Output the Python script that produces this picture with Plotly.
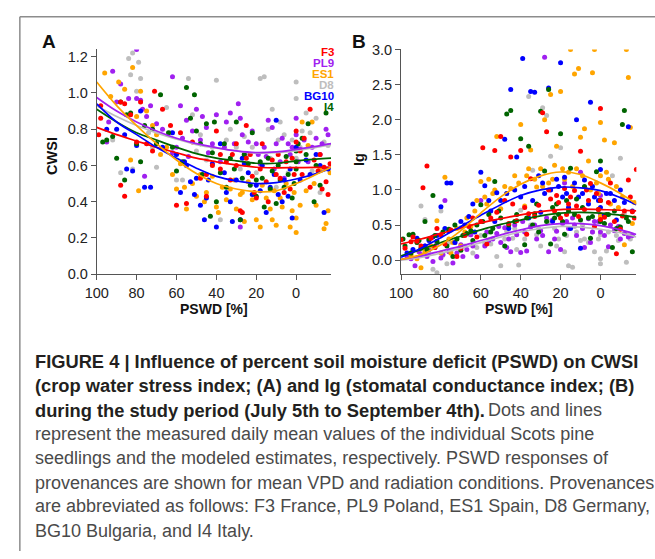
import plotly.graph_objects as go

W, H = 655, 559

series = ["F3", "PL9", "ES1", "D8", "BG10", "I4"]
colors = {"F3": "#FF0000", "PL9": "#A020F0", "ES1": "#FFA500",
          "D8": "#BEBEBE", "BG10": "#0000FF", "I4": "#006400"}

# ---------------- Panel A: CWSI vs PSWD (measured points) ----------------
a_F3_x = [99, 98, 98, 88, 86, 88, 86, 83, 80, 78, 75, 71, 72, 67, 63, 60, 58, 55, 52, 48, 45, 42, 40, 38, 35, 32, 30, 28, 27, 25, 25, 22, 20, 18, 15, 12, 10, 8, 5, 3, 1, 0, 0, -2, -4, -7, -7, -9, -11, -13, -14, -16, -17, -15,
          45, 38, 33, 30, 23, 21, 17, 14, 9, 6, 2, -3, -12]
a_F3_y = [0.77, 0.86, 0.93, 0.95, 0.94, 0.49, 0.43, 0.88, 0.73, 0.95, 0.72, 1.01, 0.68, 0.91, 0.82, 0.38, 0.78, 0.39, 0.73, 0.53, 0.43, 0.60, 0.79, 0.58, 0.62, 0.66, 0.72, 0.35, 0.34, 0.64, 0.82, 0.54, 0.42, 0.58, 0.51, 0.63, 0.55, 0.53, 0.62, 0.47, 0.55, 0.73, 0.79, 0.68, 0.75, 0.91, 0.48, 0.63, 0.57, 0.47, 0.59, 0.44, 0.61, 0.51,
          0.55, 0.66, 0.52, 0.60, 0.66, 0.45, 0.72, 0.40, 0.66, 0.45, 0.64, 0.55, 0.66]

a_PL9_x = [95, 94, 92, 90, 88, 84, 80, 80, 78, 77, 75, 76, 73, 70, 67, 62, 62, 58, 57, 55, 52, 50, 47, 45, 44, 42, 40, 38, 35, 33, 29, 28, 27, 28, 24, 22, 20, 18, 15, 14, 12, 10, 8, 6, 4, 2, 0, 0, -2, -4, -6, -10, -12, -15, -16,
           60, 54, 48, 36, 31, 26, 19, 16, 11, 7, 3, -1, -8, -13]
a_PL9_y = [0.73, 0.84, 1.12, 0.95, 1.05, 0.97, 1.24, 0.97, 0.96, 0.91, 0.87, 0.54, 0.93, 0.83, 0.80, 0.67, 1.09, 0.93, 0.75, 0.85, 0.79, 0.91, 0.87, 0.81, 0.67, 0.72, 0.88, 0.62, 0.84, 0.89, 0.94, 0.86, 0.77, 0.26, 0.73, 0.79, 0.72, 0.61, 0.65, 0.85, 0.81, 0.72, 0.62, 0.53, 0.72, 0.70, 0.86, 0.77, 0.69, 0.74, 0.62, 0.75, 0.66, 0.80, 0.77,
           0.70, 0.65, 0.74, 0.70, 0.72, 0.66, 0.66, 0.70, 0.58, 0.75, 0.66, 0.62, 0.70, 0.72]

a_ES1_x = [96, 93, 89, 86, 82, 83, 80, 78, 79, 75, 72, 70, 65, 60, 58, 55, 52, 50, 48, 45, 42, 40, 39, 35, 33, 30, 28, 26, 24, 20, 18, 15, 13, 11, 10, 7, 5, 3, 1, 0, 0, -2, -3, -6, -8, -10, -12, -14, -15, -16, -17,
           68, 62, 56, 46, 37, 31, 27, 22, 17, 12, 8, 2, -5, -9]
a_ES1_y = [1.11, 0.98, 1.06, 1.02, 1.14, 0.63, 0.87, 1.01, 0.46, 0.90, 0.82, 0.77, 0.70, 0.47, 0.61, 0.36, 0.50, 0.43, 0.55, 0.45, 0.54, 0.37, 0.34, 0.41, 0.47, 0.36, 0.44, 0.29, 0.51, 0.30, 0.26, 0.42, 0.36, 0.46, 0.27, 0.37, 0.50, 0.26, 0.45, 0.23, 0.31, 0.38, 0.84, 0.71, 0.84, 0.38, 0.58, 0.25, 0.28, 0.35, 0.56,
           0.66, 0.55, 0.48, 0.40, 0.48, 0.52, 0.45, 0.41, 0.49, 0.30, 0.42, 0.35, 0.46, 0.50]

a_D8_x = [84, 82, 83, 79, 78, 80, 88, 82, 72, 70, 65, 63, 57, 54, 52, 48, 45, 40, 38, 35, 30, 28, 26, 24, 20, 18, 16, 14, 12, 10, 8, 6, 4, 0, 0, 0, -3, -5, -8, -10, -12, -14, -16,
          92, 74, 60, 50, 42, 33, 22, 13, 9, 2, -2, -7]
a_D8_y = [1.19, 1.22, 1.10, 1.17, 1.08, 1.01, 0.56, 0.58, 0.70, 0.59, 0.92, 0.78, 0.52, 1.08, 0.88, 0.77, 0.63, 1.07, 0.30, 0.74, 0.70, 0.58, 0.76, 0.66, 0.56, 1.08, 1.09, 0.80, 0.91, 0.48, 0.84, 0.77, 0.56, 1.06, 0.97, 0.64, 0.79, 0.89, 0.57, 0.86, 0.45, 0.73, 0.71,
          0.74, 0.78, 0.52, 0.68, 0.70, 0.80, 0.70, 0.64, 0.74, 0.74, 0.70, 0.78]

a_BG10_x = [90, 85, 82, 80, 78, 76, 73, 70, 62, 60, 58, 55, 53, 50, 48, 46, 45, 42, 40, 38, 35, 32, 30, 28, 26, 24, 20, 18, 15, 13, 10, 9, 6, 4, 2, 0, -2, -5, -10, -14, -16,
            95, 86, 67, 56, 51, 44, 36, 33, 27, 22, 17, 11, 7, 3, -7, -12]
a_BG10_y = [0.80, 0.58, 0.57, 0.71, 0.90, 0.48, 0.48, 0.72, 0.78, 0.66, 0.45, 0.60, 0.51, 0.53, 0.38, 0.30, 0.42, 0.61, 0.26, 0.72, 0.45, 0.29, 0.52, 0.30, 0.61, 0.56, 0.49, 0.46, 0.34, 0.48, 0.85, 0.44, 0.52, 0.43, 0.31, 0.70, 0.52, 0.63, 0.66, 0.34, 0.58,
            0.80, 0.77, 0.70, 0.62, 0.44, 0.52, 0.56, 0.40, 0.64, 0.44, 0.60, 0.55, 0.40, 0.58, 0.55, 0.60]

a_I4_x = [97, 95, 92, 90, 88, 86, 85, 83, 80, 78, 76, 72, 68, 64, 60, 57, 55, 53, 51, 50, 47, 45, 43, 41, 40, 38, 36, 33, 30, 28, 26, 24, 22, 20, 20, 18, 16, 14, 12, 10, 8, 6, 4, 2, 0, 0, 0, -3, -6, -9, -12, -15,
          70, 62, 48, 42, 35, 31, 27, 23, 17, 13, 9, 5, 1, -1, -5, -10]
a_I4_y = [0.73, 0.74, 0.76, 0.64, 0.95, 0.52, 0.88, 0.89, 0.72, 0.62, 0.82, 0.80, 0.99, 0.78, 0.57, 0.62, 1.03, 0.86, 0.99, 0.79, 0.55, 0.83, 0.32, 0.84, 0.40, 0.56, 0.72, 0.64, 0.84, 0.30, 0.66, 0.61, 0.78, 0.43, 0.52, 0.62, 0.37, 0.64, 0.57, 0.39, 0.52, 0.48, 0.55, 0.42, 0.68, 0.62, 0.58, 0.75, 0.83, 0.40, 0.49, 0.89,
          0.72, 0.70, 0.72, 0.67, 0.48, 0.58, 0.53, 0.49, 0.53, 0.47, 0.60, 0.65, 0.50, 0.72, 0.66, 0.60]

# ---------------- Panel A: modelled curves ----------------
curve_x = [100, 90, 80, 70, 60, 50, 40, 30, 20, 10, 0, -10, -17.5]
a_curve = {
    "D8":   [0.93, 0.87, 0.82, 0.78, 0.745, 0.715, 0.695, 0.68, 0.668, 0.67, 0.68, 0.70, 0.715],
    "PL9":  [0.975, 0.90, 0.84, 0.79, 0.75, 0.72, 0.698, 0.68, 0.671, 0.675, 0.689, 0.705, 0.72],
    "I4":   [0.91, 0.84, 0.78, 0.74, 0.70, 0.665, 0.64, 0.625, 0.612, 0.612, 0.625, 0.635, 0.64],
    "F3":   [0.81, 0.77, 0.735, 0.70, 0.67, 0.64, 0.62, 0.603, 0.59, 0.587, 0.588, 0.589, 0.59],
    "BG10": [0.94, 0.84, 0.77, 0.70, 0.64, 0.585, 0.54, 0.515, 0.50, 0.505, 0.525, 0.555, 0.585],
    "ES1":  [1.06, 0.93, 0.82, 0.72, 0.63, 0.555, 0.50, 0.47, 0.455, 0.46, 0.50, 0.55, 0.59],
}

# ---------------- Panel B: Ig vs PSWD (measured points) ----------------
b_F3_x = [100, 98, 95, 92, 89, 87, 85, 83, 80, 78, 75, 72, 70, 66, 62, 60, 59, 57, 55, 53, 50, 48, 46, 45, 42, 40, 38, 37, 35, 33, 29, 27, 25, 23, 22, 20, 18, 16, 15, 13, 11, 10, 8, 6, 5, 3, 1, 0, 0, 0, -2, -5, -7, -8, -10, -12, -14, -15, -16, -18,
          94, 90, 82, 68, 64, 52, 44, 36, 31, 26, 21, 17, 12, 7, 2, -4, -11, -17]
b_F3_y = [0.29, 0.17, 0.26, 0.27, 1.03, 1.34, 0.31, 0.18, 0.36, 0.23, 0.43, 0.05, 0.17, 0.48, 0.33, 0.55, 1.60, 0.23, 0.60, 1.56, 1.76, 0.85, 0.52, 1.47, 0.56, 1.56, 0.75, 0.37, 1.16, 0.62, 2.10, 1.83, 0.87, 0.70, 0.92, 0.60, 1.02, 0.80, 0.90, 0.99, 0.62, 1.55, 0.72, 0.85, 1.09, 0.48, 0.72, 2.16, 0.85, 0.58, 0.61, 1.10, 0.55, 0.09, 0.44, 0.70, 1.14, 0.90, 0.69, 1.29,
          0.33, 0.20, 0.45, 0.35, 0.60, 0.68, 0.80, 0.66, 0.78, 1.00, 0.82, 0.65, 0.77, 1.00, 0.95, 0.82, 0.63, 0.60]

b_PL9_x = [97, 93, 90, 88, 86, 84, 82, 80, 78, 76, 74, 72, 70, 67, 65, 62, 60, 58, 56, 54, 52, 50, 48, 46, 45, 42, 40, 38, 37, 35, 32, 30, 28, 27, 26, 24, 22, 20, 19, 18, 16, 14, 12, 10, 8, 6, 4, 3, 0, 0, 0, -2, -4, -7, -9, -12, -14,
           95, 91, 87, 83, 79, 73, 69, 64, 57, 51, 47, 43, 39, 33, 29, 23, 17, 13, 9, 5, 1, -5, -10, -16]
b_PL9_y = [0.05, -0.08, 0.08, 0.20, 0.15, -0.02, 0.24, 0.03, 0.85, 0.12, -0.04, 0.10, 0.22, 0.15, 0.36, 0.05, 0.85, 0.20, 0.28, 0.30, 0.38, 0.25, 0.46, 0.30, 0.12, 0.36, 0.11, 0.40, 0.13, 0.47, 0.30, 0.42, 2.89, 0.60, 0.12, 0.57, 0.41, 0.15, 0.52, 1.10, 0.45, 0.60, 0.35, 1.25, 0.18, 0.59, 0.40, 0.55, 0.92, 0.65, 0.40, 0.35, 0.19, 0.42, 0.48, 0.38, 0.33,
           0.02, 0.12, 0.05, 0.18, 0.08, 0.25, 0.05, 0.20, 0.40, 0.48, 0.18, 0.50, 0.55, 0.50, 0.35, 0.30, 0.55, 0.50, 0.45, 0.25, 0.55, 0.50, 0.30, 0.35]

b_ES1_x = [95, 92, 90, 85, 82, 80, 78, 76, 75, 72, 70, 67, 65, 62, 60, 58, 56, 54, 52, 50, 48, 45, 43, 40, 38, 36, 35, 32, 30, 28, 26, 25, 23, 22, 20, 18, 16, 15, 13, 12, 11, 10, 8, 6, 4, 3, 2, 0, 0, 0, -2, -4, -5, -7, -9, -12, -13, -14, -15, -16, -17,
           88, 74, 68, 63, 57, 53, 47, 41, 37, 33, 29, 24, 19, 14, 9, 5, 1, -3, -8, -11]
b_ES1_y = [0.07, 0.02, -0.11, 0.20, 0.56, 0.10, 1.18, 0.30, 0.10, 0.45, 0.20, 0.60, 0.48, 0.85, 1.12, 0.90, 1.15, 0.95, 1.76, 0.73, 1.05, 1.02, 1.20, 1.93, 0.77, 1.30, 1.57, 1.04, 1.30, 2.00, 1.10, 2.36, 1.35, 1.62, 2.40, 1.15, 1.25, 3.00, 2.65, 1.30, 2.73, 1.75, 1.87, 1.41, 2.67, 3.00, 1.10, 1.96, 1.20, 0.62, 1.71, 1.15, 0.80, 1.67, 0.75, 0.22, 3.00, 2.60, 1.89, 0.52, 0.82,
           0.12, 0.25, 0.40, 0.70, 0.80, 1.00, 0.95, 1.10, 1.20, 1.15, 1.05, 1.15, 1.30, 1.05, 1.20, 1.00, 0.95, 1.25, 1.05, 0.90]

b_D8_x = [94, 90, 88, 86, 84, 82, 80, 79, 77, 75, 72, 70, 66, 64, 62, 58, 55, 52, 50, 47, 44, 42, 41, 40, 38, 36, 34, 32, 30, 29, 27, 25, 23, 21, 20, 18, 16, 14, 12, 10, 8, 6, 3, 0, 0, 0, -3, -6, -8, -10, -12, -13, -15,
          92, 85, 76, 68, 60, 56, 48, 43, 35, 31, 26, 22, 17, 13, 9, 4, 1, -4, -9, -14]
b_D8_y = [0.35, 0.77, 0.58, 0.10, -0.13, -0.18, 0.70, 0.07, -0.05, 0.13, 0.30, 0.46, 0.36, 0.10, 0.18, 0.24, 0.23, 0.05, -0.08, 0.41, 0.31, 0.15, -0.07, 0.71, 0.30, 2.33, 1.28, 0.36, 0.20, 2.17, 2.06, 1.48, 0.45, 0.30, 1.60, 0.12, -0.08, -0.10, 0.40, 0.28, 0.30, 0.25, 0.12, 0.02, -0.05, 0.36, 0.13, 1.20, 0.35, 1.45, 0.66, -0.03, 0.30,
          0.25, 0.20, 0.25, 0.20, 0.35, 0.40, 0.30, 0.45, 0.50, 0.45, 0.55, 0.20, 0.35, 0.48, 0.50, 0.40, 0.30, 0.40, 0.28, 0.38]

b_BG10_x = [97, 92, 88, 84, 80, 78, 77, 75, 73, 70, 66, 63, 60, 58, 55, 52, 50, 48, 46, 45, 42, 40, 39, 36, 35, 33, 31, 30, 28, 26, 24, 22, 20, 19, 18, 16, 15, 12, 11, 10, 8, 6, 5, 3, 0, 0, -2, -5, -8, -12, -14, -16,
            94, 86, 82, 76, 68, 64, 56, 53, 47, 43, 38, 34, 29, 25, 21, 17, 13, 9, 4, 1, -3, -7, -10]
b_BG10_y = [0.10, 0.31, 0.20, 0.33, 0.76, 0.45, 1.10, 1.10, 0.25, 0.55, 0.62, 0.40, 1.25, 1.06, 0.70, 0.96, 0.85, 1.72, 0.45, 2.43, 1.47, 0.90, 2.87, 0.60, 2.40, 2.39, 1.20, 0.68, 0.95, 2.45, 0.55, 1.15, 2.81, 0.90, 1.18, 0.75, 0.45, 2.00, 0.90, 0.17, 1.14, 0.80, 2.25, 0.90, 1.29, 0.75, 0.64, 0.95, 0.57, 0.82, 1.90, 0.70,
            0.15, 0.28, 0.35, 0.42, 0.50, 0.80, 0.85, 0.55, 0.95, 1.00, 1.05, 0.85, 1.10, 1.00, 1.05, 0.95, 1.10, 0.95, 1.05, 0.85, 0.95, 0.85, 1.00]

b_I4_x = [98, 96, 94, 92, 90, 88, 86, 84, 82, 79, 76, 74, 72, 70, 67, 65, 62, 60, 58, 56, 54, 53, 50, 48, 47, 45, 43, 40, 38, 36, 34, 33, 31, 30, 28, 26, 25, 23, 22, 20, 19, 18, 16, 15, 12, 10, 8, 6, 5, 2, 0, 0, 0, -2, -4, -6, -8, -10, -11, -12, -14, -16,
          99, 95, 91, 87, 83, 77, 73, 69, 64, 59, 55, 51, 46, 42, 37, 32, 27, 24, 21, 17, 13, 9, 4, 1, -3, -7, -13]
b_I4_y = [0.20, 0.36, 0.37, 0.25, 0.17, 0.55, 0.30, 0.92, 0.27, 0.40, 0.44, 0.05, 0.30, 0.14, 0.38, 0.42, 0.50, 0.79, 0.35, 0.65, 0.45, 1.12, 0.60, 0.20, 2.08, 2.13, 0.55, 1.73, 0.22, 1.62, 0.50, 0.66, 0.40, 2.12, 1.27, 2.43, 0.23, 0.60, 0.80, 1.80, 0.55, 0.37, 0.70, 1.31, 0.87, 0.57, 1.05, 0.60, 0.31, 1.26, 1.41, 0.85, 0.55, 0.52, 0.65, 0.18, 0.45, 0.47, 1.93, 2.13, 0.55, 0.12,
          0.30, 0.10, 0.28, 0.15, 0.35, 0.20, 0.50, 0.35, 0.28, 0.55, 0.40, 0.70, 0.50, 0.65, 0.60, 0.80, 0.55, 0.75, 0.65, 0.85, 0.65, 0.75, 0.62, 0.72, 0.65, 0.70, 0.60]

# ---------------- Panel B: modelled curves ----------------
b_curve_x = [100, 90, 80, 70, 60, 50, 40, 30, 20, 10, 0, -10, -18]
b_curve = {
    "D8":   [0.0, 0.04, 0.10, 0.17, 0.25, 0.33, 0.40, 0.45, 0.48, 0.47, 0.44, 0.39, 0.33],
    "PL9":  [0.01, 0.06, 0.13, 0.20, 0.28, 0.36, 0.43, 0.49, 0.52, 0.52, 0.49, 0.43, 0.365],
    "I4":   [0.06, 0.15, 0.25, 0.34, 0.43, 0.51, 0.57, 0.63, 0.67, 0.68, 0.67, 0.64, 0.61],
    "F3":   [0.23, 0.30, 0.38, 0.46, 0.53, 0.59, 0.645, 0.69, 0.72, 0.725, 0.72, 0.71, 0.70],
    "BG10": [0.04, 0.17, 0.32, 0.48, 0.64, 0.79, 0.92, 1.00, 1.04, 1.03, 0.99, 0.89, 0.79],
    "ES1":  [0.01, 0.08, 0.22, 0.42, 0.67, 0.90, 1.08, 1.20, 1.255, 1.22, 1.10, 0.95, 0.80],
}

x_ticks = [100, 80, 60, 40, 20, 0]
a_y_ticks = [0.0, 0.2, 0.4, 0.6, 0.8, 1.0, 1.2]
b_y_ticks = [0.0, 0.5, 1.0, 1.5, 2.0, 2.5, 3.0]

caption_bold = [
    "FIGURE 4 | Influence of percent soil moisture deficit (PSWD) on CWSI",
    "(crop water stress index; (A) and Ig (stomatal conductance index; (B)",
    "during the study period (July 5th to September 4th).",
]
caption_tail = "Dots and lines"
caption_regular = [
    "represent the measured daily mean values of the individual Scots pine",
    "seedlings and the modeled estimates, respectively. PSWD responses of",
    "provenances are shown for mean VPD and radiation conditions. Provenances",
    "are abbreviated as follows: F3 France, PL9 Poland, ES1 Spain, D8 Germany,",
    "BG10 Bulgaria, and I4 Italy.",
]

# ------------------------------------------------------------------
FONT = "Liberation Sans, Arial, Helvetica, sans-serif"

def px(x):
    return x / W

def py(y):
    return 1 - y / H

pts_a = {s: (globals()["a_%s_x" % s], globals()["a_%s_y" % s]) for s in series}
pts_b = {s: (globals()["b_%s_x" % s], globals()["b_%s_y" % s]) for s in series}

fig = go.Figure()
point_order = ["D8", "PL9", "ES1", "BG10", "I4", "F3"]
for s in point_order:
    xs, ys = pts_a[s]
    fig.add_trace(go.Scatter(x=xs, y=ys, mode="markers", xaxis="x", yaxis="y",
                             marker=dict(size=5, color=colors[s], line=dict(width=0)),
                             showlegend=False, hoverinfo="skip"))
    xs, ys = pts_b[s]
    fig.add_trace(go.Scatter(x=xs, y=ys, mode="markers", xaxis="x2", yaxis="y2",
                             marker=dict(size=5, color=colors[s], line=dict(width=0)),
                             showlegend=False, hoverinfo="skip"))

line_order = ["D8", "PL9", "I4", "F3", "BG10", "ES1"]
for s in line_order:
    fig.add_trace(go.Scatter(x=curve_x, y=a_curve[s], mode="lines", xaxis="x", yaxis="y",
                             line=dict(color=colors[s], width=1.7, shape="spline", smoothing=1.0),
                             showlegend=False, hoverinfo="skip"))
    fig.add_trace(go.Scatter(x=b_curve_x, y=b_curve[s], mode="lines", xaxis="x2", yaxis="y2",
                             line=dict(color=colors[s], width=1.7, shape="spline", smoothing=1.0),
                             showlegend=False, hoverinfo="skip"))

axis_common = dict(showgrid=False, zeroline=False, showline=True, linecolor="#555555",
                   linewidth=1, ticks="outside", ticklen=5, tickcolor="#555555",
                   tickfont=dict(family=FONT, size=14.5, color="#222222"))

fig.update_layout(
    width=W, height=H,
    margin=dict(l=0, r=0, t=0, b=0),
    paper_bgcolor="white", plot_bgcolor="white",
    showlegend=False,
    xaxis=dict(domain=[px(86.3), px(325)], range=[100, -17.5], tickvals=x_ticks,
               anchor="y", **axis_common),
    yaxis=dict(domain=[py(274), py(42.7)], range=[0, 1.24], tickvals=a_y_ticks,
               tickformat=".1f", anchor="x", **axis_common),
    xaxis2=dict(domain=[px(396.3), px(636)], range=[100, -18], tickvals=x_ticks,
                anchor="y2", **axis_common),
    yaxis2=dict(domain=[py(274), py(42.7)], range=[-0.2, 3.0], tickvals=b_y_ticks,
                tickformat=".1f", anchor="x2", **axis_common),
)

ann = []
def text(x, y, t, size, color="#222222", bold=False, xanchor="center", yanchor="middle", angle=0):
    ann.append(dict(x=px(x), y=py(y), xref="paper", yref="paper", text=("<b>%s</b>" % t) if bold else t,
                    showarrow=False, xanchor=xanchor, yanchor=yanchor, textangle=angle,
                    font=dict(family=FONT, size=size, color=color)))

# panel letters and axis titles
text(38, 35, "A", 19, "#111111", bold=True)
text(353, 35, "B", 19, "#111111", bold=True)
text(40, 152, "CWSI", 14.5, "#111111", bold=True, angle=-90)
text(353, 156, "Ig", 14.5, "#111111", bold=True, angle=-90)
text(205.5, 310, "PSWD [%]", 14, "#111111", bold=True)
text(516, 310, "PSWD [%]", 14, "#111111", bold=True)

# provenance labels (legend)
leg_y = [45, 56.5, 67.5, 79, 90.5, 101.5]
for s, yy in zip(series, leg_y):
    text(330, yy, s, 11.5, colors[s], bold=True, xanchor="right")

# caption
line_y = [364, 389, 414, 439, 463.5, 488.5, 513, 538]
for i, t in enumerate(caption_bold):
    text(21.5, line_y[i], t, 18.3, "#231f20", bold=True, xanchor="left")
text(482.5, line_y[2], caption_tail, 18, "#4a4a4a", xanchor="left")
for i, t in enumerate(caption_regular):
    text(21.5, line_y[3 + i], t, 18, "#4a4a4a", xanchor="left")

fig.update_layout(annotations=ann)

# frame (top and left border of the figure box)
fig.update_layout(shapes=[
    dict(type="line", xref="paper", yref="paper", x0=px(8), x1=1.0, y0=py(9), y1=py(9),
         line=dict(color="#8c8c8c", width=1.5)),
    dict(type="line", xref="paper", yref="paper", x0=px(8), x1=px(8), y0=py(9), y1=0.0,
         line=dict(color="#8c8c8c", width=1.5)),
])

fig.write_html("out.html", config={"displayModeBar": False},
               post_script="document.body.style.margin='0px';document.body.style.overflow='hidden';")
